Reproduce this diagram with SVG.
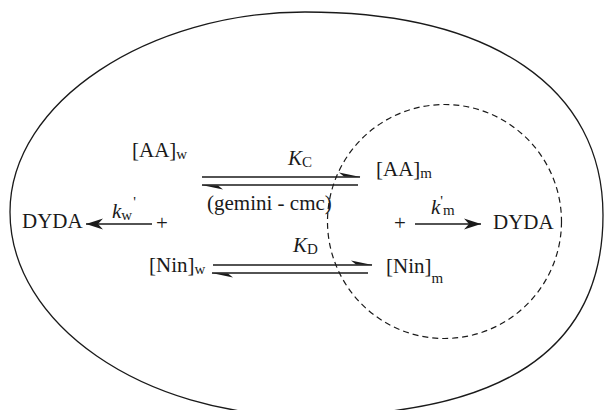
<svg xmlns="http://www.w3.org/2000/svg" width="604" height="410" viewBox="0 0 604 410">
<style>
text{font-family:"Liberation Serif","Times New Roman",serif;font-size:21px;fill:#1a1a1a}
.sub{font-size:15px}
.it{font-style:italic}
.ln{stroke:#1a1a1a;stroke-width:1.3;fill:none}
.eq{stroke:#1a1a1a;stroke-width:1.3;fill:none;marker-end:url(#harp)}
.rx{stroke:#1a1a1a;stroke-width:1.3;fill:none;marker-end:url(#arr)}
</style>
<defs>
<marker id="harp" markerUnits="userSpaceOnUse" viewBox="-24 -6 26 12" refX="0" refY="0" markerWidth="26" markerHeight="12" orient="auto" overflow="visible">
<path d="M0.5,0 L-21,-4.6 L-16,-0.4 Z" fill="#1a1a1a"/>
</marker>
<marker id="arr" markerUnits="userSpaceOnUse" viewBox="-18 -6 20 12" refX="0" refY="0" markerWidth="20" markerHeight="12" orient="auto" overflow="visible">
<path d="M0,0 L-17,-5.5 L-12,0 L-17,5.5 Z" fill="#1a1a1a"/>
</marker>
</defs>
<g id="cell">
<path class="ln" d="M10,212 C10,101 150,12 305,12 C492,12 603,88 603,215 C603,352 500,416 305,416 C143,416 10,324 10,212 Z"/>
</g>
<g id="micelle">
<circle cx="444.5" cy="221.5" r="117" fill="none" stroke="#1a1a1a" stroke-width="1.2" stroke-dasharray="6 4"/>
</g>
<g id="connectors">
<line class="eq" x1="202" y1="177" x2="360" y2="177"/>
<line class="eq" x1="358" y1="185" x2="202" y2="185"/>
<line class="eq" x1="213" y1="265" x2="372" y2="265"/>
<line class="eq" x1="368" y1="273" x2="212" y2="273"/>
<line class="rx" x1="152" y1="224" x2="86" y2="224"/>
<line class="rx" x1="415" y1="224" x2="481" y2="224"/>
</g>
<g id="AAw"><text x="132" y="157">[AA]<tspan class="sub" dy="2">w</tspan></text></g>
<g id="AAm"><text x="376" y="176">[AA]<tspan class="sub" dy="2">m</tspan></text></g>
<g id="Ninw"><text x="149" y="272">[Nin]<tspan class="sub" dy="2">w</tspan></text></g>
<g id="Ninm"><text x="386" y="273">[Nin]<tspan class="sub" dy="10">m</tspan></text></g>
<g id="DYDAw"><text x="22" y="228">DYDA</text></g>
<g id="DYDAm"><text x="493" y="229">DYDA</text></g>
<g id="plusw"><text x="156" y="230">+</text></g>
<g id="plusm"><text x="394" y="230">+</text></g>
<g id="KC"><text x="288" y="165"><tspan class="it">K</tspan><tspan class="sub" dy="2">C</tspan></text></g>
<g id="KD"><text x="293" y="252"><tspan class="it">K</tspan><tspan class="sub" dy="2">D</tspan></text></g>
<g id="kw"><text x="112" y="218"><tspan class="it">k</tspan><tspan class="sub" dy="2">w</tspan><tspan class="sub" dx="1" dy="-13">'</tspan></text></g>
<g id="km"><text x="431" y="214"><tspan class="it">k</tspan><tspan class="sub" dy="-8">'</tspan><tspan class="sub" dy="9">m</tspan></text></g>
<g id="cmc"><text x="207" y="210">(gemini - cmc)</text></g>
</svg>
